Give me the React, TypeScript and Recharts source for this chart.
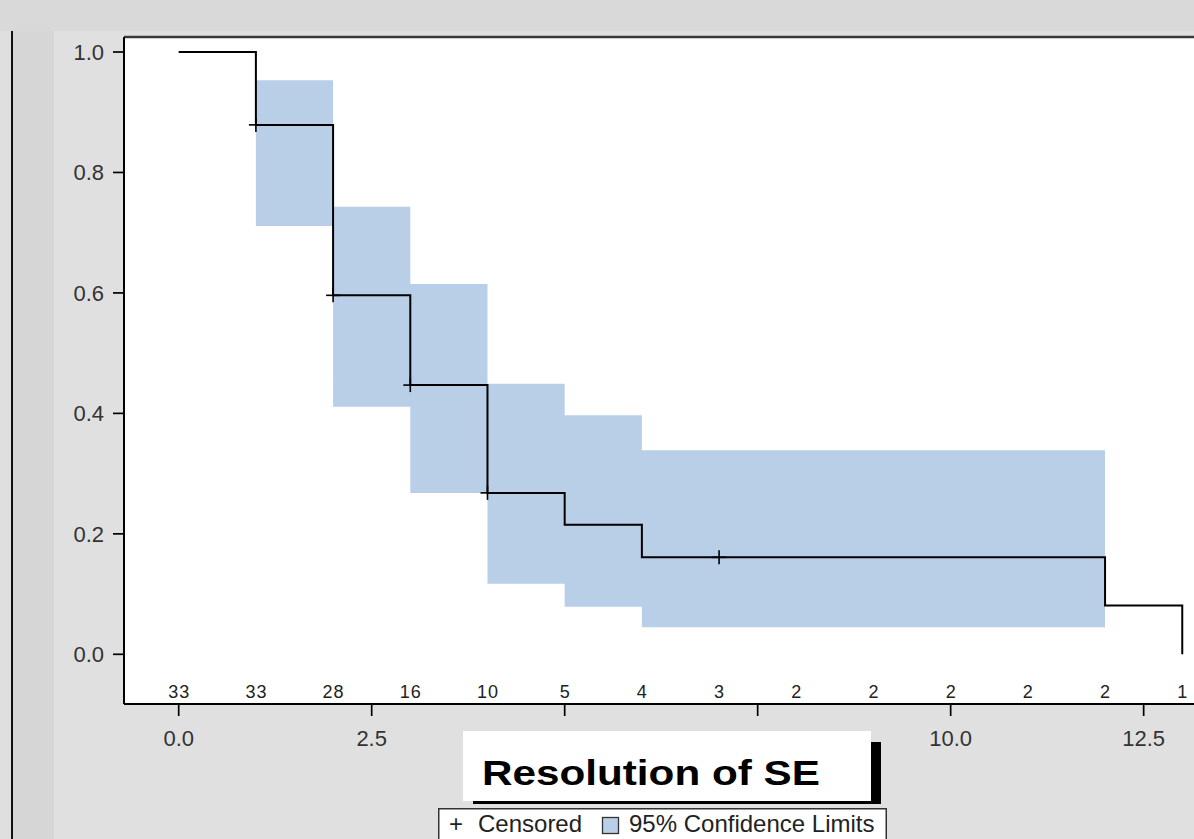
import React from 'react';
import {
  ComposedChart,
  Line,
  Area,
  Scatter,
  XAxis,
  YAxis,
  CartesianGrid,
  ReferenceLine,
  Legend,
} from 'recharts';

// ---- data ----
const eventTimes = [0, 1, 2, 3, 4, 5, 6, 12, 13];
const survival = [1, 0.879, 0.596, 0.447, 0.268, 0.215, 0.161, 0.081, 0];

const ciTimes = [1, 2, 3, 4, 5, 6, 12];
const ciLower = [0.711, 0.411, 0.268, 0.117, 0.079, 0.045, 0.045];
const ciUpper = [0.953, 0.743, 0.615, 0.449, 0.397, 0.339, 0.339];

const censorTimes = [1, 2, 3, 4, 7];
const censorSurvival = [0.879, 0.596, 0.447, 0.268, 0.161];

const riskTimes = [0, 1, 2, 3, 4, 5, 6, 7, 8, 9, 10, 11, 12, 13];
const atRisk = [33, 33, 28, 16, 10, 5, 4, 3, 2, 2, 2, 2, 2, 1];
const atRiskRow = -0.0614;

const xTicks = [0, 2.5, 5, 7.5, 10, 12.5];
const yTicks = [0, 0.2, 0.4, 0.6, 0.8, 1.0];
const xDomain = [-0.7085, 13.178];
const yDomain = [-0.0825, 1.0249];

const titleText = 'Resolution of SE';
const legendCensored = 'Censored';
const legendCI = '95% Confidence Limits';

// ---- tables built from the arrays ----
const survData = eventTimes.map((t, i) => ({ t, s: survival[i] }));
const ciData = ciTimes.map((t, i) => ({ t, range: [ciLower[i], ciUpper[i]] }));
const censorData = censorTimes.map((t, i) => ({ t, s: censorSurvival[i] }));
const riskData = riskTimes.map((t, i) => ({ t, y: atRiskRow, n: atRisk[i] }));

const FONT = '"Liberation Sans", Arial, Helvetica, sans-serif';
const BAND = '#b9cfe7';

const CensorMark = (props: any) => {
  const { cx, cy } = props;
  if (cx == null || cy == null) return null;
  const h = 7;
  return (
    <g>
      <line x1={cx - h} y1={cy} x2={cx + h} y2={cy} stroke="#000" strokeWidth={1.6} />
      <line x1={cx} y1={cy - h} x2={cx} y2={cy + h} stroke="#000" strokeWidth={1.6} />
    </g>
  );
};

const RiskLabel = (props: any) => {
  const { cx, cy, payload } = props;
  if (cx == null || cy == null) return null;
  return (
    <text
      x={cx}
      y={cy + 6.4}
      textAnchor="middle"
      fontSize={18}
      fontFamily={FONT}
      fill="#222"
      letterSpacing={1}
      dx={0.5}
    >
      {payload.n}
    </text>
  );
};

const LegendBox = () => (
  <svg width={449} height={40} style={{ display: 'block' }}>
    <rect x={0.75} y={0.75} width={447.5} height={50} fill="#fff" stroke="#333" strokeWidth={1.5} />
    <text x={11} y={24} fontSize={24} fontFamily={FONT} fill="#222">+</text>
    <text x={40} y={24} fontSize={24} fontFamily={FONT} fill="#222">{legendCensored}</text>
    <rect x={164.5} y={9.5} width={16} height={16} fill={BAND} stroke="#333" strokeWidth={1.3} />
    <text x={191} y={24} fontSize={24} fontFamily={FONT} fill="#222">{legendCI}</text>
  </svg>
);

export default function App() {
  const tickStyle = { fontSize: 22, fill: '#333', fontFamily: FONT };
  return (
    <div
      style={{
        position: 'absolute',
        left: 0,
        top: 0,
        width: 1194,
        height: 839,
        overflow: 'hidden',
        background: '#e0e0e0',
        fontFamily: FONT,
      }}
    >
      <div style={{ position: 'absolute', left: 0, top: 0, width: 1194, height: 31, background: '#d9d9d9' }} />
      <div style={{ position: 'absolute', left: 0, top: 31, width: 11, height: 808, background: '#dfdfdf' }} />
      <div style={{ position: 'absolute', left: 11, top: 31, width: 2, height: 808, background: '#111' }} />
      <div style={{ position: 'absolute', left: 13, top: 31, width: 41, height: 808, background: '#d6d6d6' }} />

      <div style={{ position: 'absolute', left: 0, top: 0 }}>
        <ComposedChart
          width={1200}
          height={839}
          margin={{ top: 37, right: 4, bottom: 105, left: 64 }}
        >
          <CartesianGrid fill="#ffffff" horizontal={false} vertical={false} />
          <XAxis
            type="number"
            dataKey="t"
            domain={xDomain}
            allowDataOverflow
            ticks={xTicks}
            tickFormatter={(v: number) => v.toFixed(1)}
            height={30}
            tickSize={12}
            tickMargin={14}
            tick={tickStyle}
            axisLine={{ stroke: '#000', strokeWidth: 2 }}
            tickLine={{ stroke: '#000', strokeWidth: 1.7 }}
            interval={0}
          />
          <YAxis
            type="number"
            domain={yDomain}
            allowDataOverflow
            ticks={yTicks}
            tickFormatter={(v: number) => v.toFixed(1)}
            width={60}
            tickSize={11}
            tickMargin={9}
            tick={tickStyle}
            axisLine={{ stroke: '#000', strokeWidth: 2 }}
            tickLine={{ stroke: '#000', strokeWidth: 1.7 }}
            interval={0}
          />
          <ReferenceLine y={yDomain[1]} stroke="#3a3a3a" strokeWidth={2.5} />
          <Area
            data={ciData}
            dataKey="range"
            type="stepAfter"
            fill={BAND}
            fillOpacity={1}
            stroke="none"
            isAnimationActive={false}
            legendType="none"
          />
          <Line
            data={survData}
            dataKey="s"
            type="stepAfter"
            stroke="#000"
            strokeWidth={2}
            dot={false}
            isAnimationActive={false}
            legendType="none"
          />
          <Scatter
            data={censorData}
            dataKey="s"
            shape={CensorMark}
            isAnimationActive={false}
            legendType="none"
          />
          <Scatter
            data={riskData}
            dataKey="y"
            shape={RiskLabel}
            isAnimationActive={false}
            legendType="none"
          />
          <Legend
            layout="horizontal"
            verticalAlign="middle"
            align="center"
            content={() => <LegendBox />}
            wrapperStyle={{ position: 'absolute', left: 438, top: 808, width: 449, height: 40, margin: 0 }}
          />
        </ComposedChart>
      </div>

      <svg
        width={1194}
        height={839}
        style={{ position: 'absolute', left: 0, top: 0, pointerEvents: 'none' }}
      >
        <rect x={871} y={742} width={10} height={62} fill="#000" />
        <rect x={473} y={801} width={408} height={3} fill="#000" />
        <rect x={463} y={731} width={408} height={70} fill="#fff" />
        <g transform="translate(482,785) scale(1.207,1)">
          <text x={0} y={0} fontSize={35} fontWeight="bold" fontFamily={FONT} fill="#000">
            {titleText}
          </text>
        </g>
      </svg>
    </div>
  );
}
